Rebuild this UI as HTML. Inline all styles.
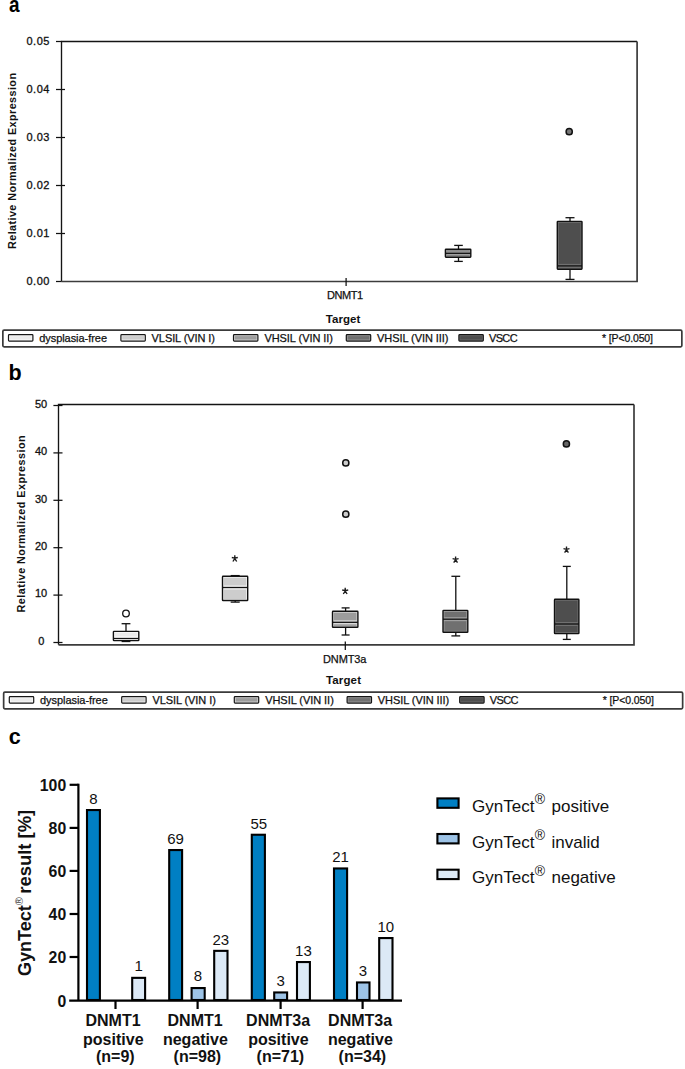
<!DOCTYPE html>
<html>
<head>
<meta charset="utf-8">
<style>
html,body{margin:0;padding:0;background:#fff;}
body{width:685px;height:1069px;overflow:hidden;}
svg{display:block;font-family:"Liberation Sans",sans-serif;}
.ax{stroke:#141414;stroke-width:1.35;fill:none;}
.ax2{stroke:#3c3c3c;stroke-width:1.7;fill:none;}
.tk{stroke:#111;stroke-width:1.25;fill:none;}
.t11{font-size:11px;fill:#111;stroke:#111;stroke-width:0.25;}
.tl{font-size:11px;fill:#111;stroke:#111;stroke-width:0.3;}
.wk{stroke:#111;stroke-width:1.3;fill:none;}
.bo{stroke:#111;stroke-width:1.4;fill:none;}
.cax{stroke:#000;stroke-width:2.2;fill:none;}
.bar{stroke:#000;stroke-width:2.1;}
.vl{font-size:15px;fill:#111;text-anchor:middle;}
.xl{font-size:16px;font-weight:bold;fill:#111;text-anchor:middle;}
.yl{font-size:15.8px;font-weight:bold;fill:#111;text-anchor:end;}
.lg{font-size:17px;fill:#111;}
</style>
</head>
<body>
<svg width="685" height="1069" viewBox="0 0 685 1069">

<text transform="translate(9.1,12) scale(0.88,1)" font-size="21.5" font-weight="bold" fill="#000">a</text>
<path class="ax" d="M61.5 281.5V41.5H637.1"/>
<path class="ax2" d="M637.1 41.5V281.5H61.5"/>
<g class="tk">
<line x1="56" y1="41.5" x2="61.5" y2="41.5"/>
<line x1="56" y1="89.5" x2="65" y2="89.5"/>
<line x1="56" y1="137.5" x2="65" y2="137.5"/>
<line x1="56" y1="185.5" x2="65" y2="185.5"/>
<line x1="56" y1="233.5" x2="65" y2="233.5"/>
<line x1="56" y1="281.5" x2="61.5" y2="281.5"/>
<line x1="346.1" y1="278" x2="346.1" y2="286"/>
</g>
<g class="tl" text-anchor="end">
<text x="49.4" y="44.8" textLength="23">0.05</text>
<text x="49.4" y="92.8" textLength="23">0.04</text>
<text x="49.4" y="140.8" textLength="23">0.03</text>
<text x="49.4" y="188.8" textLength="23">0.02</text>
<text x="49.4" y="236.8" textLength="23">0.01</text>
<text x="49.4" y="284.8" textLength="23">0.00</text>
</g>
<text transform="translate(16.4,249) rotate(-90)" font-size="10.8" font-weight="bold" fill="#111" textLength="176" lengthAdjust="spacing">Relative Normalized Expression</text>
<text class="t11" x="327" y="299.4" textLength="36">DNMT1</text>
<text x="325.8" y="322.6" font-size="11.5" font-weight="bold" fill="#111" textLength="34.6">Target</text>
<line x1="458.5" y1="245.4" x2="458.5" y2="249.2" class="wk"/>
<line x1="458.5" y1="257.2" x2="458.5" y2="261.4" class="wk"/>
<line x1="454.2" y1="245.4" x2="462.8" y2="245.4" class="wk"/>
<line x1="454.2" y1="261.4" x2="462.8" y2="261.4" class="wk"/>
<rect x="445.4" y="249.2" width="25.40" height="8.00" fill="#a0a0a0"/>
<rect x="446.80" y="250.60" width="22.60" height="5.20" fill="#707070"/>
<rect x="446.4" y="251.30" width="23.40" height="4" fill="#a0a0a0"/>
<line x1="445.4" y1="253.3" x2="470.8" y2="253.3" class="wk"/>
<rect x="445.4" y="249.2" width="25.40" height="8.00" rx="0.6" class="bo"/>
<line x1="570" y1="217.7" x2="570" y2="221.4" class="wk"/>
<line x1="570" y1="269.2" x2="570" y2="279.4" class="wk"/>
<line x1="565.5" y1="217.7" x2="574.5" y2="217.7" class="wk"/>
<line x1="565.5" y1="279.4" x2="574.5" y2="279.4" class="wk"/>
<rect x="557.3" y="221.4" width="24.70" height="47.80" fill="#707070"/>
<rect x="558.70" y="222.80" width="21.90" height="45.00" fill="#4e4e4e"/>
<rect x="558.3" y="263.90" width="22.70" height="4" fill="#707070"/>
<line x1="557.3" y1="265.9" x2="582" y2="265.9" class="wk"/>
<rect x="557.3" y="221.4" width="24.70" height="47.80" rx="0.6" class="bo"/>
<circle cx="569.2" cy="131.7" r="3.1" fill="#777" stroke="#111" stroke-width="1.5"/>
<g transform="translate(0,0)">
<rect x="2.85" y="330.2" width="679" height="16.6" rx="1.2" fill="none" stroke="#3a3a3a" stroke-width="1.7"/>
<rect x="8.5" y="334.6" width="24.4" height="6.5" rx="0.8" fill="#fcfcfc"/>
<rect x="9.8" y="336.1" width="21.8" height="3.5" fill="#ebebeb"/>
<rect x="8.5" y="334.6" width="24.4" height="6.5" rx="0.8" fill="none" stroke="#151515" stroke-width="1.2"/>
<rect x="120.9" y="334.6" width="24.4" height="6.5" rx="0.8" fill="#f4f4f4"/>
<rect x="122.2" y="336.1" width="21.8" height="3.5" fill="#cdcdcd"/>
<rect x="120.9" y="334.6" width="24.4" height="6.5" rx="0.8" fill="none" stroke="#151515" stroke-width="1.2"/>
<rect x="233.5" y="334.6" width="24.4" height="6.5" rx="0.8" fill="#dadada"/>
<rect x="234.8" y="336.1" width="21.8" height="3.5" fill="#9c9c9c"/>
<rect x="233.5" y="334.6" width="24.4" height="6.5" rx="0.8" fill="none" stroke="#151515" stroke-width="1.2"/>
<rect x="346.3" y="334.6" width="24.4" height="6.5" rx="0.8" fill="#a0a0a0"/>
<rect x="347.6" y="336.1" width="21.8" height="3.5" fill="#707070"/>
<rect x="346.3" y="334.6" width="24.4" height="6.5" rx="0.8" fill="none" stroke="#151515" stroke-width="1.2"/>
<rect x="458.9" y="334.6" width="24.4" height="6.5" rx="0.8" fill="#707070"/>
<rect x="460.2" y="336.1" width="21.8" height="3.5" fill="#4e4e4e"/>
<rect x="458.9" y="334.6" width="24.4" height="6.5" rx="0.8" fill="none" stroke="#151515" stroke-width="1.2"/>
<g class="t11">
    <text x="39.2" y="342" textLength="67.8">dysplasia-free</text>
    <text x="151.6" y="342" textLength="63.4">VLSIL (VIN I)</text>
    <text x="264.4" y="342" textLength="68.6">VHSIL (VIN II)</text>
    <text x="377" y="342" textLength="71.4">VHSIL (VIN III)</text>
    <text x="489" y="342" textLength="28.6">VSCC</text>
    <text x="602" y="342" textLength="51" font-size="10.5">* [P&lt;0.050]</text>
  </g></g>
<text x="8.6" y="379.6" font-size="21.5" font-weight="bold" fill="#000">b</text>
<path class="ax" d="M58.5 644.8V404.5H634"/>
<path class="ax2" d="M634 404.5V644.8H58.5"/>
<g class="tk">
<line x1="53.4" y1="405.5" x2="62.5" y2="405.5"/>
<line x1="53.4" y1="452.9" x2="62.5" y2="452.9"/>
<line x1="53.4" y1="500.3" x2="62.5" y2="500.3"/>
<line x1="53.4" y1="547.7" x2="62.5" y2="547.7"/>
<line x1="53.4" y1="595.1" x2="62.5" y2="595.1"/>
<line x1="53.4" y1="642.5" x2="62.5" y2="642.5"/>
<line x1="345.3" y1="641.4" x2="345.3" y2="649.9"/>
</g>
<g class="tl" text-anchor="end">
<text x="47.2" y="407.8">50</text>
<text x="47.2" y="455.2">40</text>
<text x="47.2" y="502.6">30</text>
<text x="47.2" y="550.0">20</text>
<text x="47.2" y="597.4">10</text>
<text x="44.3" y="644.8">0</text>
</g>
<text transform="translate(25.4,612.4) rotate(-90)" font-size="10.8" font-weight="bold" fill="#111" textLength="177" lengthAdjust="spacing">Relative Normalized Expression</text>
<text class="t11" x="323" y="662.6" textLength="43.4">DNMT3a</text>
<text x="326" y="684.2" font-size="11.5" font-weight="bold" fill="#111" textLength="35">Target</text>
<line x1="126" y1="623.7" x2="126" y2="631.4" class="wk"/>
<line x1="126" y1="640.6" x2="126" y2="641.5" class="wk"/>
<line x1="121.6" y1="623.7" x2="130.4" y2="623.7" class="wk"/>
<line x1="121.6" y1="641.5" x2="130.4" y2="641.5" class="wk"/>
<rect x="113.4" y="631.4" width="25.40" height="9.20" fill="#fcfcfc"/>
<rect x="114.80" y="632.80" width="22.60" height="6.40" fill="#ebebeb"/>
<rect x="114.4" y="636.50" width="23.40" height="4" fill="#fcfcfc"/>
<line x1="113.4" y1="638.5" x2="138.8" y2="638.5" class="wk"/>
<rect x="113.4" y="631.4" width="25.40" height="9.20" rx="0.6" class="bo"/>
<circle cx="126" cy="613.5" r="3.3" fill="#fff" stroke="#111" stroke-width="1.3"/>
<line x1="235.2" y1="575.6" x2="235.2" y2="576.3" class="wk"/>
<line x1="235.2" y1="600.5" x2="235.2" y2="602.1" class="wk"/>
<line x1="230.7" y1="575.6" x2="239.7" y2="575.6" class="wk"/>
<line x1="230.7" y1="602.1" x2="239.7" y2="602.1" class="wk"/>
<rect x="222.5" y="576.3" width="25.20" height="24.20" fill="#f4f4f4"/>
<rect x="223.90" y="577.70" width="22.40" height="21.40" fill="#cdcdcd"/>
<rect x="223.5" y="585.50" width="23.20" height="4" fill="#f4f4f4"/>
<line x1="222.5" y1="587.5" x2="247.7" y2="587.5" class="wk"/>
<rect x="222.5" y="576.3" width="25.20" height="24.20" rx="0.6" class="bo"/>
<line x1="345.6" y1="607.9" x2="345.6" y2="611.3" class="wk"/>
<line x1="345.6" y1="627.3" x2="345.6" y2="635" class="wk"/>
<line x1="341.6" y1="607.9" x2="349.6" y2="607.9" class="wk"/>
<line x1="341.6" y1="635" x2="349.6" y2="635" class="wk"/>
<rect x="332.5" y="611.3" width="25.40" height="16.00" fill="#dadada"/>
<rect x="333.90" y="612.70" width="22.60" height="13.20" fill="#9c9c9c"/>
<rect x="333.5" y="620.30" width="23.40" height="4" fill="#dadada"/>
<line x1="332.5" y1="622.3" x2="357.9" y2="622.3" class="wk"/>
<rect x="332.5" y="611.3" width="25.40" height="16.00" rx="0.6" class="bo"/>
<circle cx="345.8" cy="462.9" r="3.1" fill="#ccc" stroke="#111" stroke-width="1.5"/>
<circle cx="345.8" cy="514.2" r="3.1" fill="#ccc" stroke="#111" stroke-width="1.5"/>
<line x1="455.8" y1="576.3" x2="455.8" y2="610.4" class="wk"/>
<line x1="455.8" y1="632.3" x2="455.8" y2="635.9" class="wk"/>
<line x1="451.40000000000003" y1="576.3" x2="460.2" y2="576.3" class="wk"/>
<line x1="451.40000000000003" y1="635.9" x2="460.2" y2="635.9" class="wk"/>
<rect x="443" y="610.4" width="24.80" height="21.90" fill="#a0a0a0"/>
<rect x="444.40" y="611.80" width="22.00" height="19.10" fill="#707070"/>
<rect x="444" y="617.20" width="22.80" height="4" fill="#a0a0a0"/>
<line x1="443" y1="619.2" x2="467.8" y2="619.2" class="wk"/>
<rect x="443" y="610.4" width="24.80" height="21.90" rx="0.6" class="bo"/>
<line x1="566.8" y1="566.4" x2="566.8" y2="599.3" class="wk"/>
<line x1="566.8" y1="633.6" x2="566.8" y2="639.4" class="wk"/>
<line x1="562.8" y1="566.4" x2="570.8" y2="566.4" class="wk"/>
<line x1="562.8" y1="639.4" x2="570.8" y2="639.4" class="wk"/>
<rect x="554.5" y="599.3" width="24.40" height="34.30" fill="#707070"/>
<rect x="555.90" y="600.70" width="21.60" height="31.50" fill="#4e4e4e"/>
<rect x="555.5" y="622.00" width="22.40" height="4" fill="#707070"/>
<line x1="554.5" y1="624" x2="578.9" y2="624" class="wk"/>
<rect x="554.5" y="599.3" width="24.40" height="34.30" rx="0.6" class="bo"/>
<circle cx="566.4" cy="443.9" r="3.1" fill="#666" stroke="#111" stroke-width="1.5"/>
<g stroke="#1a1a1a" stroke-width="1.35" fill="none" stroke-linecap="butt">
<path d="M234.8 555.3V558.6M231.8 557.5L234.8 558.1L237.8 557.5M232.9 561.5L234.8 558.6L236.70000000000002 561.5"/>
<path d="M345.2 587.8V591.1M342.2 590.0L345.2 590.6L348.2 590.0M343.3 594.0L345.2 591.1L347.09999999999997 594.0"/>
<path d="M455.6 556.5V559.8000000000001M452.6 558.7L455.6 559.3000000000001L458.6 558.7M453.70000000000005 562.7L455.6 559.8000000000001L457.5 562.7"/>
<path d="M566.5 546.5V549.8000000000001M563.5 548.7L566.5 549.3000000000001L569.5 548.7M564.6 552.7L566.5 549.8000000000001L568.4 552.7"/>
</g>
<g transform="translate(0.8,362)">
<rect x="2.85" y="330.2" width="679" height="16.6" rx="1.2" fill="none" stroke="#3a3a3a" stroke-width="1.7"/>
<rect x="8.5" y="334.6" width="24.4" height="6.5" rx="0.8" fill="#fcfcfc"/>
<rect x="9.8" y="336.1" width="21.8" height="3.5" fill="#ebebeb"/>
<rect x="8.5" y="334.6" width="24.4" height="6.5" rx="0.8" fill="none" stroke="#151515" stroke-width="1.2"/>
<rect x="120.9" y="334.6" width="24.4" height="6.5" rx="0.8" fill="#f4f4f4"/>
<rect x="122.2" y="336.1" width="21.8" height="3.5" fill="#cdcdcd"/>
<rect x="120.9" y="334.6" width="24.4" height="6.5" rx="0.8" fill="none" stroke="#151515" stroke-width="1.2"/>
<rect x="233.5" y="334.6" width="24.4" height="6.5" rx="0.8" fill="#dadada"/>
<rect x="234.8" y="336.1" width="21.8" height="3.5" fill="#9c9c9c"/>
<rect x="233.5" y="334.6" width="24.4" height="6.5" rx="0.8" fill="none" stroke="#151515" stroke-width="1.2"/>
<rect x="346.3" y="334.6" width="24.4" height="6.5" rx="0.8" fill="#a0a0a0"/>
<rect x="347.6" y="336.1" width="21.8" height="3.5" fill="#707070"/>
<rect x="346.3" y="334.6" width="24.4" height="6.5" rx="0.8" fill="none" stroke="#151515" stroke-width="1.2"/>
<rect x="458.9" y="334.6" width="24.4" height="6.5" rx="0.8" fill="#707070"/>
<rect x="460.2" y="336.1" width="21.8" height="3.5" fill="#4e4e4e"/>
<rect x="458.9" y="334.6" width="24.4" height="6.5" rx="0.8" fill="none" stroke="#151515" stroke-width="1.2"/>
<g class="t11">
    <text x="39.2" y="342" textLength="67.8">dysplasia-free</text>
    <text x="151.6" y="342" textLength="63.4">VLSIL (VIN I)</text>
    <text x="264.4" y="342" textLength="68.6">VHSIL (VIN II)</text>
    <text x="377" y="342" textLength="71.4">VHSIL (VIN III)</text>
    <text x="489" y="342" textLength="28.6">VSCC</text>
    <text x="602" y="342" textLength="51" font-size="10.5">* [P&lt;0.050]</text>
  </g></g>
<text x="8.8" y="744.2" font-size="21.5" font-weight="bold" fill="#000">c</text>
<g class="cax">
<line x1="78.4" y1="783.7" x2="78.4" y2="1000"/>
<line x1="69.2" y1="1000.6" x2="402" y2="1000.6"/>
<line x1="69.6" y1="784.8" x2="78.4" y2="784.8"/>
<line x1="69.6" y1="827.9" x2="78.4" y2="827.9"/>
<line x1="69.6" y1="870.9" x2="78.4" y2="870.9"/>
<line x1="69.6" y1="914.0" x2="78.4" y2="914.0"/>
<line x1="69.6" y1="957" x2="78.4" y2="957"/>
<line x1="115.5" y1="1000" x2="115.5" y2="1009"/>
<line x1="197.6" y1="1000" x2="197.6" y2="1009"/>
<line x1="280.6" y1="1000" x2="280.6" y2="1009"/>
<line x1="362.6" y1="1000" x2="362.6" y2="1009"/>
</g>
<g class="yl">
<text x="66.2" y="790.8">100</text>
<text x="66.2" y="833.9">80</text>
<text x="66.2" y="876.9">60</text>
<text x="66.2" y="920.0">40</text>
<text x="66.2" y="963.0">20</text>
<text x="66.2" y="1006.6">0</text>
</g>
<text transform="translate(30.7,976) rotate(-90)" font-size="18" font-weight="bold" fill="#111">GynTect<tspan font-size="11" font-weight="normal" fill="#444" dy="-7.5">®</tspan><tspan dy="7.5" dx="-1.7" font-size="18.45"> result [%]</tspan></text>
<g class="bar">
<rect x="87.00" y="810.05" width="12.90" height="189.95" fill="#007fc3"/>
<rect x="132.20" y="977.85" width="12.90" height="22.15" fill="#dce9f6"/>
<rect x="169.20" y="850.05" width="12.90" height="149.95" fill="#007fc3"/>
<rect x="191.60" y="988.05" width="13.10" height="11.95" fill="#9dc3e6"/>
<rect x="214.20" y="950.85" width="13.30" height="49.15" fill="#dce9f6"/>
<rect x="251.80" y="834.75" width="13.10" height="165.25" fill="#007fc3"/>
<rect x="274.20" y="992.45" width="12.90" height="7.55" fill="#9dc3e6"/>
<rect x="297.00" y="962.05" width="12.90" height="37.95" fill="#dce9f6"/>
<rect x="334.00" y="868.45" width="13.10" height="131.55" fill="#007fc3"/>
<rect x="357.00" y="982.45" width="12.50" height="17.55" fill="#9dc3e6"/>
<rect x="379.20" y="938.05" width="13.30" height="61.95" fill="#dce9f6"/>
</g>
<g class="vl">
<text x="93.4" y="803.6">8</text>
<text x="138.6" y="971">1</text>
<text x="175.6" y="843.6">69</text>
<text x="198" y="981">8</text>
<text x="220.8" y="945">23</text>
<text x="258.8" y="828.8">55</text>
<text x="280.6" y="985.6">3</text>
<text x="303.4" y="956">13</text>
<text x="340.5" y="862.4">21</text>
<text x="363" y="976.4">3</text>
<text x="385.8" y="932.4">10</text>
</g>
<g class="xl">
<text x="113.0" y="1026.3">DNMT1</text>
<text x="113.3" y="1044.6">positive</text>
<text x="115.3" y="1061.8">(n=9)</text>
<text x="195.1" y="1026.3">DNMT1</text>
<text x="195.4" y="1044.6">negative</text>
<text x="197.4" y="1061.8">(n=98)</text>
<text x="278.1" y="1026.3">DNMT3a</text>
<text x="278.4" y="1044.6">positive</text>
<text x="280.4" y="1061.8">(n=71)</text>
<text x="360.1" y="1026.3">DNMT3a</text>
<text x="360.4" y="1044.6">negative</text>
<text x="362.4" y="1061.8">(n=34)</text>
</g>
<g class="bar">
<rect x="437.4" y="798.4" width="21.2" height="9.4" fill="#007fc3"/>
<rect x="437.4" y="834" width="21.2" height="9.4" fill="#9dc3e6"/>
<rect x="437.4" y="869.7" width="21.2" height="9.4" fill="#dce9f6"/>
</g>
<g class="lg">
<text x="472" y="812">GynTect<tspan font-size="14" dy="-7.6" dx="0.3">®</tspan><tspan dy="7.6" dx="1.8"> positive</tspan></text>
<text x="472" y="847.6">GynTect<tspan font-size="14" dy="-7.6" dx="0.3">®</tspan><tspan dy="7.6" dx="1.8"> invalid</tspan></text>
<text x="472" y="883.2">GynTect<tspan font-size="14" dy="-7.6" dx="0.3">®</tspan><tspan dy="7.6" dx="1.8"> negative</tspan></text>
</g>
</svg>
</body>
</html>
